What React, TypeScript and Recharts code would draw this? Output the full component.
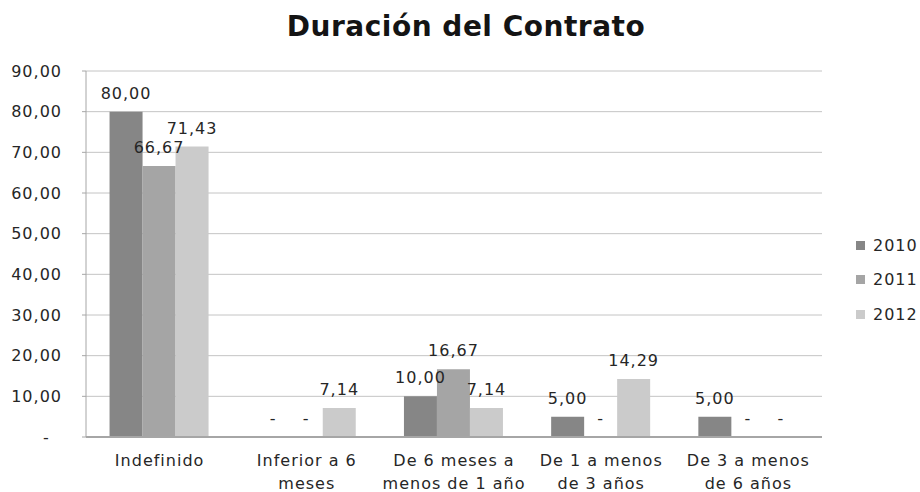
import { Bar, BarChart, CartesianGrid, LabelList, Legend, XAxis, YAxis } from "recharts";

const categories = [
  "Indefinido",
  "Inferior a 6|meses",
  "De 6 meses a|menos de 1 año",
  "De 1 a menos|de 3 años",
  "De 3 a menos|de 6 años",
];
const values2010 = [80.0, 0, 10.0, 5.0, 5.0];
const values2011 = [66.67, 0, 16.67, 0, 0];
const values2012 = [71.43, 7.14, 7.14, 14.29, 0];
const yTicks = [0, 10, 20, 30, 40, 50, 60, 70, 80, 90];

const series = [
  { key: "y2010", name: "2010", color: "#868686" },
  { key: "y2011", name: "2011", color: "#a5a5a5" },
  { key: "y2012", name: "2012", color: "#cbcbcb" },
];

const data = categories.map((c, i) => ({
  category: c,
  y2010: values2010[i],
  y2011: values2011[i],
  y2012: values2012[i],
}));

const FONT = "'DejaVu Sans', sans-serif";
const TEXT = "#262626";

const fmt = (v: number): string =>
  v === 0 ? "-" : v.toFixed(2).replace(".", ",");

// accounting style: the dash for zero sits left of the decimals
const fmtAxis = (v: number): string => (v === 0 ? "-\u00a0\u00a0" : fmt(v));

const CategoryTick = (props: any) => {
  const { x, y, payload } = props;
  const lines: string[] = String(payload.value).split("|");
  return (
    <text
      x={x}
      y={y}
      textAnchor="middle"
      fill={TEXT}
      fontSize={16}
      letterSpacing={1}
      fontFamily={FONT}
    >
      {lines.map((l, i) => (
        <tspan key={i} x={x} dy={i === 0 ? 21 : 23}>
          {l}
        </tspan>
      ))}
    </text>
  );
};

const ValueLabel = (props: any) => {
  const { x, y, width, value } = props;
  return (
    <text
      x={Number(x) + Number(width) / 2}
      y={Number(y) - 13}
      textAnchor="middle"
      fill={TEXT}
      fontSize={16}
      letterSpacing={1}
      fontFamily={FONT}
    >
      {fmt(Number(value))}
    </text>
  );
};

const LegendContent = () => (
  <div style={{ fontFamily: FONT, fontSize: 16, letterSpacing: 1, color: TEXT }}>
    {series.map((s) => (
      <div
        key={s.key}
        style={{ display: "flex", alignItems: "center", height: 34.5 }}
      >
        <svg
          width={9}
          height={9}
          style={{ flexShrink: 0, marginLeft: 34, marginRight: 8 }}
        >
          <rect width={9} height={9} fill={s.color} />
        </svg>
        <span style={{ whiteSpace: "nowrap" }}>{s.name}</span>
      </div>
    ))}
  </div>
);

export default function App() {
  return (
    <div
      style={{
        position: "absolute",
        left: 0,
        top: 0,
        width: 920,
        height: 492,
        background: "#ffffff",
        overflow: "hidden",
      }}
    >
      <div
        style={{
          position: "absolute",
          top: 13,
          left: 6,
          width: 920,
          textAlign: "center",
          fontFamily: FONT,
          fontWeight: 700,
          fontSize: 28,
          letterSpacing: 0.5,
          lineHeight: "28px",
          color: "#141414",
        }}
      >
        Duración del Contrato
      </div>
      <BarChart
        width={920}
        height={492}
        data={data}
        barCategoryGap="16%"
        barGap={0}
        margin={{ top: 71, right: 0, bottom: 0, left: 10 }}
      >
        <CartesianGrid stroke="#c4c4c4" vertical={false} />
        <XAxis
          dataKey="category"
          tick={<CategoryTick />}
          tickLine={false}
          axisLine={{ stroke: "#a6a6a6", strokeWidth: 2 }}
          height={55}
          interval={0}
        />
        <YAxis
          domain={[0, 90]}
          ticks={yTicks}
          interval={0}
          width={76}
          tickFormatter={fmtAxis}
          tick={{ fill: TEXT, fontSize: 16, fontFamily: FONT, letterSpacing: 1 }}
          tickLine={{ stroke: "#a6a6a6" }}
          tickSize={4}
          tickMargin={20}
          axisLine={{ stroke: "#a6a6a6" }}
        />
        <Legend
          layout="vertical"
          align="right"
          verticalAlign="middle"
          content={<LegendContent />}
          wrapperStyle={{ width: 98, top: 228 }}
        />
        {series.map((s) => (
          <Bar
            key={s.key}
            dataKey={s.key}
            name={s.name}
            fill={s.color}
            minPointSize={0.01}
            isAnimationActive={false}
          >
            <LabelList dataKey={s.key} content={<ValueLabel />} />
          </Bar>
        ))}
      </BarChart>
    </div>
  );
}
